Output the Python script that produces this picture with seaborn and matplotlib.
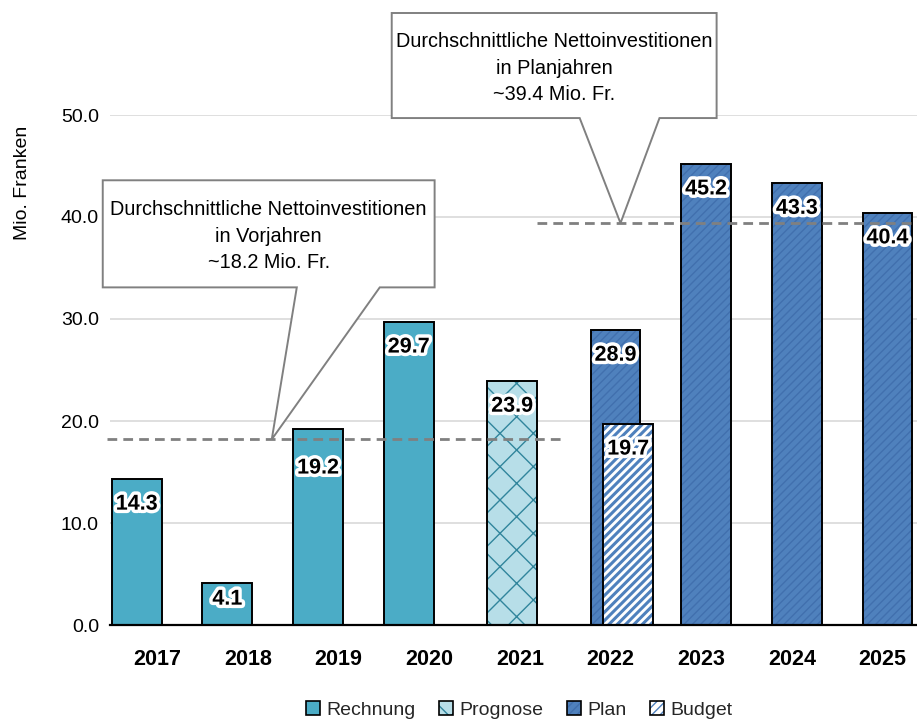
import matplotlib
matplotlib.use("Agg")
import matplotlib.pyplot as plt
import matplotlib.patheffects as pe
from matplotlib.patches import Rectangle, Polygon, Patch
import seaborn as sns
import pandas as pd

# ---------------- data ----------------
years = ["2017", "2018", "2019", "2020", "2021", "2022", "2023", "2024", "2025"]
series = ["Rechnung", "Prognose", "Plan", "Budget"]

rechnung_years = ["2017", "2018", "2019", "2020"]
rechnung_vals = [14.3, 4.1, 19.2, 29.7]
prognose_years = ["2021"]
prognose_vals = [23.9]
plan_years = ["2022", "2023", "2024", "2025"]
plan_vals = [28.9, 45.2, 43.3, 40.4]
budget_years = ["2022"]
budget_vals = [19.7]

avg_past = 18.2
avg_plan = 39.4
callout_past = "Durchschnittliche Nettoinvestitionen\nin Vorjahren\n~18.2 Mio. Fr."
callout_plan = "Durchschnittliche Nettoinvestitionen\nin Planjahren\n~39.4 Mio. Fr."
y_label = "Mio. Franken"
y_ticks = [0, 10, 20, 30, 40, 50]

# ---------------- styles ----------------
sns.set_theme(style="white")
plt.rcParams["font.family"] = ["Liberation Sans", "DejaVu Sans"]
NARROW = ["Liberation Sans Narrow", "Liberation Sans", "DejaVu Sans"]

fill = {"Rechnung": "#4BACC6", "Prognose": "#B7DEE8", "Plan": "#4F81BD", "Budget": "#FFFFFF"}
hatch = {"Rechnung": None, "Prognose": "x", "Plan": "////", "Budget": "////"}
hatch_col = {"Rechnung": "#4BACC6", "Prognose": "#31859C", "Plan": "#4170AE", "Budget": "#4F81BD"}
hatch_lw = {"Rechnung": 1.0, "Prognose": 1.0, "Plan": 1.0, "Budget": 2.2}
offset = {"Rechnung": 0.0, "Prognose": 0.14, "Plan": 0.28, "Budget": 0.42}
bar_w = 0.55

frames = []
for s, ys, vs in [("Rechnung", rechnung_years, rechnung_vals),
                  ("Prognose", prognose_years, prognose_vals),
                  ("Plan", plan_years, plan_vals),
                  ("Budget", budget_years, budget_vals)]:
    frames.append(pd.DataFrame({"Jahr": ys, "Wert": vs, "Serie": s}))
df = pd.concat(frames, ignore_index=True)

fig = plt.figure(figsize=(9.17, 7.2), dpi=100)
ax = fig.add_axes([110 / 917, 95 / 720, 807 / 917, 510 / 720])

sns.barplot(data=df, x="Jahr", y="Wert", hue="Serie", order=years, hue_order=series,
            palette=fill, dodge=False, errorbar=None, legend=False, saturation=1,
            ax=ax)

label_off = {("2018", "Rechnung"): 11.5, ("2019", "Rechnung"): 28}
for k, (s, cont) in enumerate(zip(series, ax.containers)):
    zf = 2 + 2 * k
    for p in cont.patches:
        ci = int(round(p.get_x() + p.get_width() / 2))
        h = p.get_height()
        left = ci - 0.5 + offset[s]
        p.set_x(left)
        p.set_width(bar_w)
        p.set_zorder(zf)
        p.set_linewidth(0)
        if hatch[s]:
            p.set_hatch(hatch[s])
            p.set_edgecolor(hatch_col[s])
            if hasattr(p, "set_hatch_linewidth"):
                p.set_hatch_linewidth(hatch_lw[s])
        ax.add_patch(Rectangle((left, 0), bar_w, h, fill=False, ec="black",
                               lw=1.4, zorder=zf + 1))
        off = label_off.get((years[ci], s), 18)
        ax.annotate(f"{h:.1f}", (left + bar_w / 2, h), xytext=(0, -off),
                    textcoords="offset points", ha="center", va="center",
                    fontsize=15.5, fontweight="bold", family=NARROW, color="black",
                    zorder=20,
                    path_effects=[pe.withStroke(linewidth=5, foreground="white")])

# axes styling
ax.set_xlim(-0.52, 8.38)
ax.set_ylim(0, 50)
ax.set_yticks(y_ticks)
ax.set_yticklabels([f"{t:.1f}" for t in y_ticks])
ax.set_xticks(range(len(years)))
ax.set_xticklabels(years, fontsize=15.5, fontweight="bold", family=NARROW)
ax.tick_params(axis="y", length=0, pad=8, labelsize=14, colors="black")
ax.tick_params(axis="x", length=0, pad=17, colors="black")
ax.yaxis.grid(True, color="#D9D9D9", lw=1.2, zorder=0)
ax.xaxis.grid(False)
ax.set_axisbelow(True)
for sp in ["left", "right", "top"]:
    ax.spines[sp].set_visible(False)
ax.spines["bottom"].set_color("black")
ax.spines["bottom"].set_linewidth(1.6)
ax.spines["bottom"].set_zorder(30)
ax.set_xlabel("")
ax.set_ylabel(y_label, fontsize=14, color="black")
ax.yaxis.set_label_coords(-0.098, 0.867)

# average lines
ax.plot([-0.55, 4.5], [avg_past, avg_past], color="#808080", lw=2,
        ls=(0, (3.5, 2.2)), zorder=15, clip_on=False)
ax.plot([4.19, 8.38], [avg_plan, avg_plan], color="#808080", lw=2,
        ls=(0, (3.5, 2.2)), zorder=15, clip_on=False)

# callouts
def callout(x0, x1, y0, y1, b0, b1, tipx, tipy, text):
    pts = [(x0, y1), (x1, y1), (x1, y0), (b1, y0), (tipx, tipy), (b0, y0), (x0, y0)]
    ax.add_patch(Polygon(pts, closed=True, fc="white", ec="#808080", lw=1.4,
                         zorder=16, clip_on=False, joinstyle="miter"))
    ax.text((x0 + x1) / 2, (y0 + y1) / 2 - 0.25, text, ha="center", va="center",
            fontsize=14.3, linespacing=1.5, color="black", zorder=17)

callout(-0.60, 3.06, 33.1, 43.6, 1.54, 2.455, 1.264, avg_past, callout_past)
callout(2.587, 6.17, 49.7, 60.0, 4.66, 5.54, 5.11, avg_plan, callout_plan)

# legend
handles = []
for s in series:
    fpatch = Patch(facecolor=fill[s], hatch=hatch[s],
                   edgecolor=hatch_col[s], lw=0)
    opatch = Patch(fill=False, edgecolor="black", lw=1.2)
    handles.append((fpatch, opatch))
fig.legend(handles, series, loc="center", bbox_to_anchor=(519 / 917, 1 - 710 / 720),
           ncol=4, frameon=False, fontsize=14, handlelength=0.75, handleheight=0.75,
           handletextpad=0.3, columnspacing=1.2, borderaxespad=0)

fig.savefig("out.png", dpi=100)
